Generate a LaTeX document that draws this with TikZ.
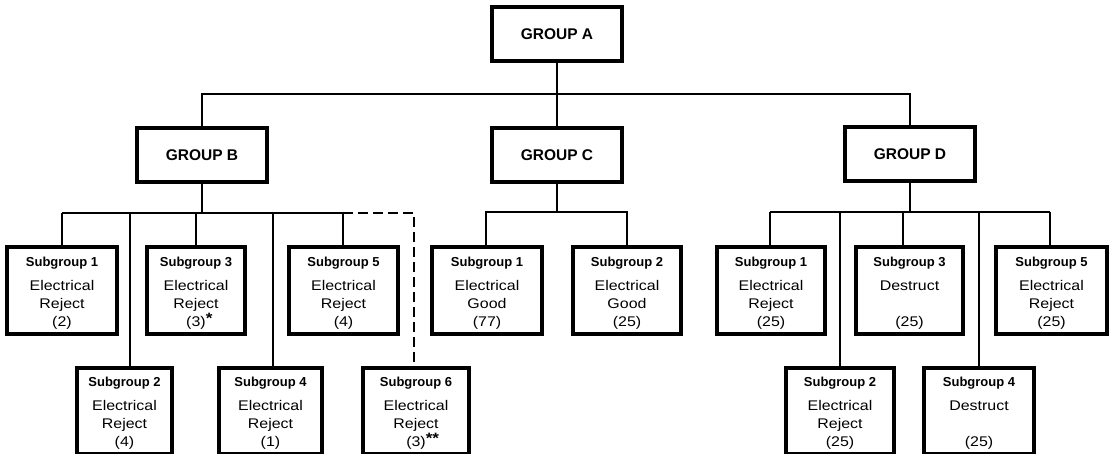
\documentclass[tikz,border=0pt]{standalone}
\usepackage{fontspec}
\setmainfont{Liberation Sans}
\newfontfamily\widesans[FakeStretch=1.14]{Liberation Sans}
\newcommand{\sgh}[1]{\textbf{\rmfamily\fontsize{13}{15}\selectfont\rule{0pt}{14pt}Subgroup #1}}
\newcommand{\stars}[1]{\rlap{\raisebox{3pt}{\bfseries\fontsize{15}{15}\selectfont #1}}}

\begin{document}
\begin{tikzpicture}[x=1pt,y=-1pt,
    grp/.style={draw,line width=3.5pt,minimum width=130pt,minimum height=54pt,inner sep=0pt,
        font=\bfseries\fontsize{15.5}{18}\selectfont},
    sub/.style={draw,line width=3.5pt,minimum height=87pt,inner sep=0pt,align=center,
        font=\widesans\fontsize{14}{18}\selectfont},
    low/.style={sub,minimum height=86pt},
    wire/.style={line width=1.2pt}]
    \useasboundingbox (0,0) rectangle (1109,454);

    \node[grp] (ga) at (557,34) {GROUP A};
    \node[grp] (gb) at (202,155) {GROUP B};
    \node[grp] (gc) at (557,155) {GROUP C};
    \node[grp] (gd) at (910,154) {GROUP D};

    \node[sub,minimum width=110pt] (b1) at (62,290.5) {\sgh{1}\\[6pt]Electrical\\Reject\\(2)};
    \node[sub,minimum width=98pt] (b3) at (196,290.5) {\sgh{3}\\[6pt]Electrical\\Reject\\(3)\stars{*}};
    \node[sub,minimum width=109pt] (b5) at (343.5,290.5) {\sgh{5}\\[6pt]Electrical\\Reject\\(4)};
    \node[low,minimum width=95pt] (b2) at (124.5,411) {\sgh{2}\\[6pt]Electrical\\Reject\\(4)};
    \node[low,minimum width=103pt] (b4) at (270.5,411) {\sgh{4}\\[6pt]Electrical\\Reject\\(1)};
    \node[low,minimum width=106pt] (b6) at (416,411) {\sgh{6}\\[6pt]Electrical\\Reject\\(3)\stars{**}};

    \node[sub,minimum width=110pt] (c1) at (487,290.5) {\sgh{1}\\[6pt]Electrical\\Good\\(77)};
    \node[sub,minimum width=108pt] (c2) at (627,290.5) {\sgh{2}\\[6pt]Electrical\\Good\\(25)};

    \node[sub,minimum width=108pt] (d1) at (771,290.5) {\sgh{1}\\[6pt]Electrical\\Reject\\(25)};
    \node[sub,minimum width=107pt] (d3) at (909.5,290.5) {\sgh{3}\\[6pt]Destruct\\\mbox{}\\(25)};
    \node[sub,minimum width=111pt] (d5) at (1051.5,290.5) {\sgh{5}\\[6pt]Electrical\\Reject\\(25)};
    \node[low,minimum width=108pt] (d2) at (840,411) {\sgh{2}\\[6pt]Electrical\\Reject\\(25)};
    \node[low,minimum width=110pt] (d4) at (979,411) {\sgh{4}\\[6pt]Destruct\\\mbox{}\\(25)};

    \coordinate (busa) at (557,94);
    \draw[wire] (ga) -- (gc);
    \draw[wire] (gb.north) -- (gb.north |- busa) -- (gd.north |- busa) -- (gd.north);

    \foreach \n/\x in {b1/62,b2/130,b3/196,b4/273,b5/343,b6/414}
        \coordinate (j\n) at (\x,213);
    \draw[wire] (gb) -- (gb |- jb1);
    \draw[wire] (jb1) -- (jb5);
    \foreach \n in {b1,b2,b3,b4,b5}
        \draw[wire] (j\n) -- (j\n |- \n.north);
    \draw[wire,dash pattern=on 10pt off 5pt] (jb5) -- (jb6) -- (jb6 |- b6.north);

    \foreach \n/\x in {c1/486,c2/627}
        \coordinate (j\n) at (\x,212);
    \draw[wire] (gc) -- (gc |- jc1);
    \draw[wire] (jc1 |- c1.north) -- (jc1) -- (jc2) -- (jc2 |- c2.north);

    \foreach \n/\x in {d1/770,d2/840,d3/903,d4/979,d5/1050}
        \coordinate (j\n) at (\x,212);
    \draw[wire] (gd) -- (gd |- jd1);
    \draw[wire] (jd1) -- (jd5);
    \foreach \n in {d1,d2,d3,d4,d5}
        \draw[wire] (j\n) -- (j\n |- \n.north);
\end{tikzpicture}
\end{document}
